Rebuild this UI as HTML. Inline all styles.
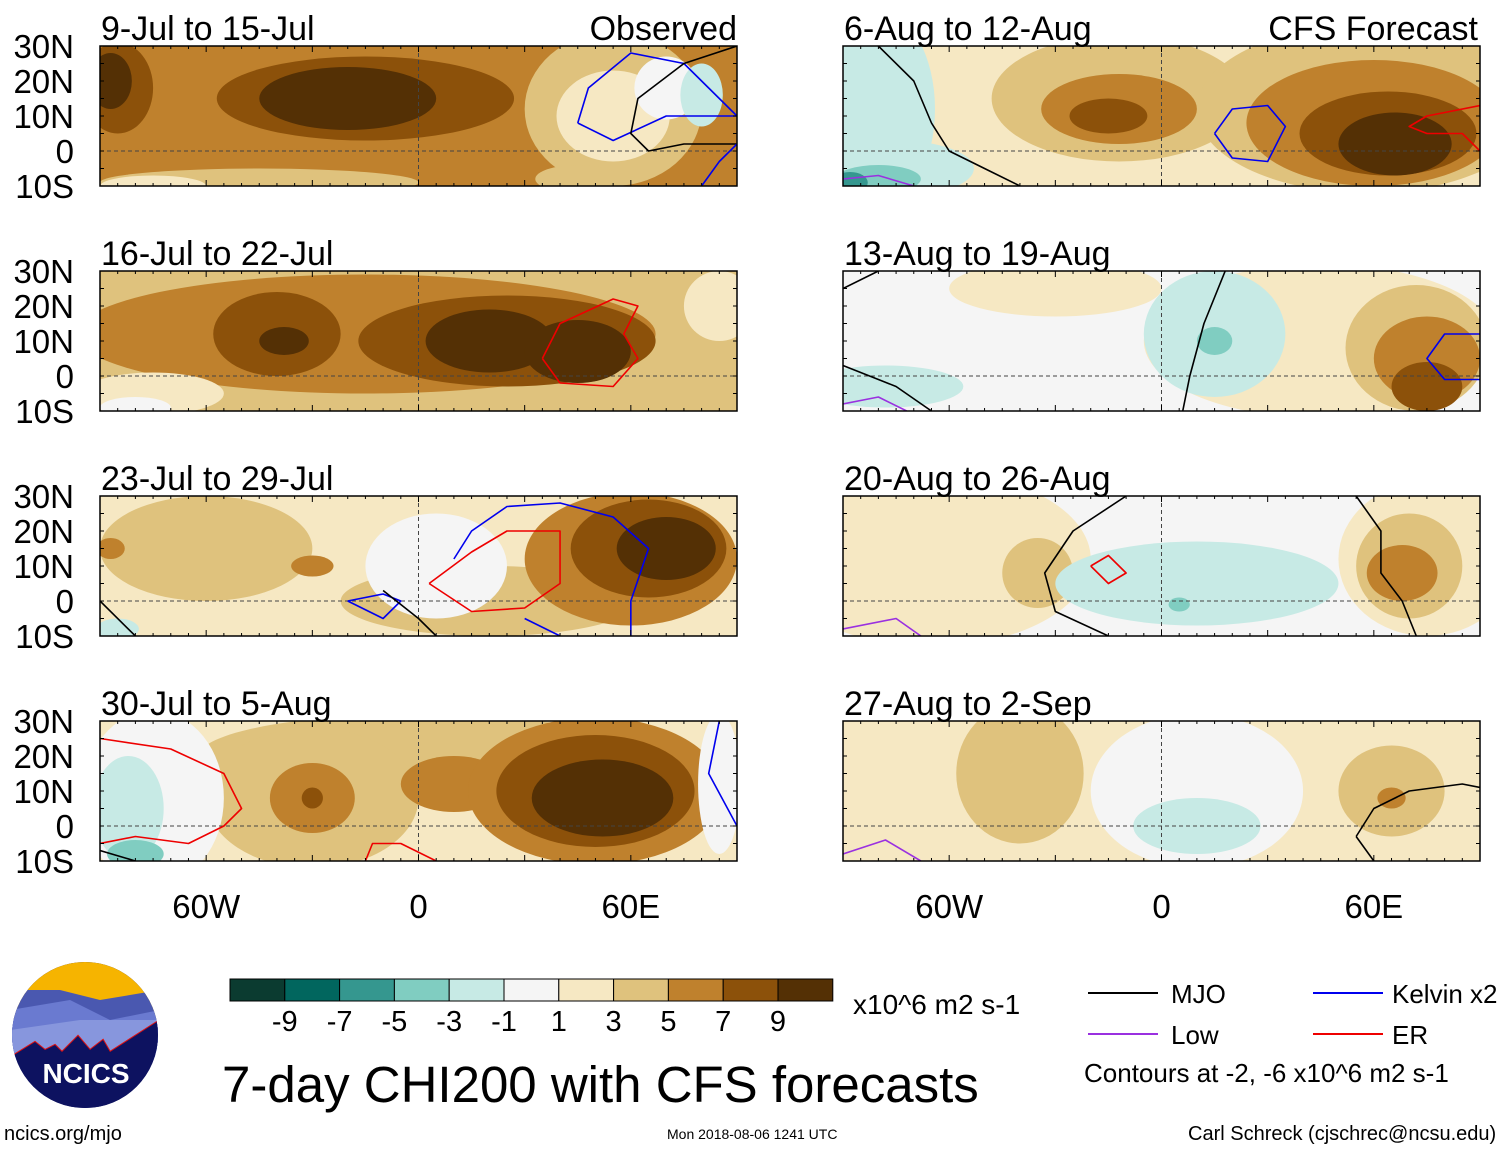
<!DOCTYPE html>
<html><head><meta charset="utf-8"><style>
body{margin:0;background:#fff;}
svg{display:block;font-family:"Liberation Sans",Arial,sans-serif;}
</style></head><body>
<svg id="chart" width="1510" height="1149" viewBox="0 0 1510 1149" xmlns="http://www.w3.org/2000/svg">
<defs></defs>
<g id="panels"></g>
<g id="bottom">
  <g>
    <clipPath id="logoclip"><circle cx="85" cy="1035" r="73"/></clipPath>
    <g clip-path="url(#logoclip)">
      <rect x="10" y="960" width="150" height="150" fill="#0d1260"/>
      <rect x="10" y="960" width="150" height="60" fill="#f6b400"/>
      <polygon points="10,990 60,990 100,1000 160,990 160,1060 10,1060" fill="#4a58b0"/>
      <polygon points="10,1010 70,1000 110,1020 160,1010 160,1060 10,1060" fill="#6a7ad0"/>
      <polygon points="10,1030 80,1020 160,1020 160,1060 10,1060" fill="#8796dd"/>
      <polyline points="14,1055 35,1042 45,1050 55,1045 62,1052 78,1036 90,1050 103,1040 110,1052 160,1020 160,1060 10,1060" fill="#5c6cc8" stroke="none"/>
      <polyline points="14,1055 35,1042 45,1050 55,1045 62,1052 78,1036 90,1050 103,1040 110,1052 160,1020" fill="none" stroke="#e01010" stroke-width="2"/>
      <polygon points="10,1060 14,1055 35,1042 45,1050 55,1045 62,1052 78,1036 90,1050 103,1040 110,1052 160,1020 160,1110 10,1110" fill="#0d1260"/>
    </g>
    <text x="86" y="1083" font-size="28" font-weight="bold" fill="#fff" text-anchor="middle">NCICS</text>
  </g>
  <text x="4" y="1140" font-size="20">ncics.org/mjo</text>
  <g id="cbar"></g>
  <text x="853" y="1014" font-size="28">x10^6 m2 s-1</text>
  <text x="222" y="1102" font-size="51">7-day CHI200 with CFS forecasts</text>
  <text x="667" y="1139" font-size="14">Mon 2018-08-06 1241 UTC</text>
  <text x="1188" y="1140" font-size="20">Carl Schreck (cjschrec@ncsu.edu)</text>
  <g>
    <line x1="1088" y1="993" x2="1158" y2="993" stroke="#000" stroke-width="2"/>
    <text x="1171" y="1003" font-size="26">MJO</text>
    <line x1="1313" y1="993" x2="1383" y2="993" stroke="#0000ee" stroke-width="2"/>
    <text x="1392" y="1003" font-size="26">Kelvin x2</text>
    <line x1="1088" y1="1034" x2="1158" y2="1034" stroke="#9a30e0" stroke-width="2"/>
    <text x="1171" y="1044" font-size="26">Low</text>
    <line x1="1313" y1="1034" x2="1383" y2="1034" stroke="#ee0000" stroke-width="2"/>
    <text x="1392" y="1044" font-size="26">ER</text>
    <text x="1084" y="1082" font-size="26">Contours at -2, -6 x10^6 m2 s-1</text>
  </g>
</g>
</svg>
<script>
const NS="http://www.w3.org/2000/svg";
const levelColors=["#0b3b30","#01665e","#35978f","#80cdc1","#c7eae5","#f5f5f5","#f6e8c3","#dfc27d","#bf812d","#8c510a","#543005"];
const cbarLabels=["-9","-7","-5","-3","-1","1","3","5","7","9"];
const panelTitles=["9-Jul to 15-Jul","16-Jul to 22-Jul","23-Jul to 29-Jul","30-Jul to 5-Aug","6-Aug to 12-Aug","13-Aug to 19-Aug","20-Aug to 26-Aug","27-Aug to 2-Sep"];
const panelBase=[8,7,6,6,6,5,5,6];
// blobs: [lon, lat, rxDeg, ryDeg, level]
const blobs1=[[-45,-9,45,4,7],[-75,-10,15,3,6],[55,12,25,22,7],[-15,15,42,12,9],[-85,18,10,13,9],[-20,15,25,9,10],[-87,20,6,8,10],[55,10,16,13,6],[70,18,9,9,5],[80,16,6,9,4],[45,-8,12,4,7]];
const blobs2=[[-15,12,82,17,8],[-40,12,18,12,9],[25,10,42,13,9],[-38,10,7,4,10],[20,10,18,9,10],[45,7,15,9,10],[-75,-5,20,6,6],[-80,-9,10,3,5],[85,20,10,10,6]];
const blobs3=[[-60,15,30,15,7],[20,0,42,10,7],[5,10,20,15,5],[60,12,30,19,8],[65,15,22,14,9],[70,15,14,9,10],[-30,10,6,3,8],[-87,15,4,3,8],[-85,-8,6,3,4]];
const blobs4=[[0,20,62,12,7],[-30,8,30,20,7],[-30,8,12,10,8],[10,12,15,8,8],[50,10,36,21,8],[50,10,28,16,9],[52,8,20,11,10],[-30,8,3,3,9],[-75,8,20,25,5],[-82,5,10,15,4],[-80,-8,8,4,3],[85,12,6,20,5]];
const blobs5=[[-80,12,16,28,4],[-75,-5,22,8,4],[-80,-8,12,4,3],[-88,-9,5,3,2],[-12,15,36,18,7],[58,12,48,24,7],[-12,12,22,10,8],[60,8,36,18,8],[-15,10,11,5,9],[64,5,25,12,9],[66,2,16,9,10]];
const blobs6=[[45,10,50,22,6],[-30,25,30,8,6],[15,12,20,18,4],[15,10,5,4,3],[-78,-3,22,6,4],[72,8,20,18,7],[75,5,15,12,8],[75,-3,10,7,9]];
const blobs7=[[-65,12,45,25,6],[-35,8,10,10,7],[10,5,40,12,4],[5,-1,3,2,3],[75,12,25,22,6],[70,10,15,15,7],[68,8,10,8,8]];
const blobs8=[[10,10,30,22,5],[10,0,18,8,4],[-40,15,18,20,7],[65,10,15,13,7],[65,8,4,3,8]];
const panelBlobs=[blobs1,blobs2,blobs3,blobs4,blobs5,blobs6,blobs7,blobs8];
// contours: [color, [[lon,lat],...]]
const contours1=[["#0000ee",[[45,8],[48,18],[60,28],[75,25],[85,15],[90,10],[70,10],[55,3],[45,8]]],["#000",[[90,30],[75,25],[62,15],[60,5],[65,0],[75,2],[90,2]]],["#0000ee",[[80,-10],[85,-3],[90,2]]]];
const contours2=[["#ee0000",[[35,5],[40,15],[55,22],[62,20],[58,12],[62,5],[55,-3],[40,-2],[35,5]]]];
const contours3=[["#0000ee",[[10,12],[15,20],[25,27],[40,28],[55,24],[65,15],[60,0],[60,-10]]],["#0000ee",[[-20,0],[-10,-5],[-5,0],[-10,2],[-20,0]]],["#ee0000",[[3,5],[15,14],[25,20],[40,20],[40,5],[30,-2],[15,-3],[3,5]]],["#000",[[-90,0],[-80,-10]]],["#000",[[-10,3],[0,-5],[5,-10]]],["#0000ee",[[30,-5],[40,-10]]]];
const contours4=[["#ee0000",[[-90,25],[-70,22],[-55,15],[-50,5],[-55,0],[-65,-5],[-80,-3],[-90,-5]]],["#ee0000",[[-15,-10],[-13,-5],[-5,-5],[5,-10]]],["#0000ee",[[85,30],[82,15],[90,0]]],["#000",[[-90,-7],[-80,-10]]]];
const contours5=[["#000",[[-80,30],[-70,20],[-65,8],[-60,0],[-50,-5],[-40,-10]]],["#0000ee",[[15,5],[20,12],[30,13],[35,7],[30,-3],[20,-2],[15,5]]],["#ee0000",[[90,13],[75,10],[70,7],[75,5],[85,5],[90,0]]],["#9a30e0",[[-90,-8],[-80,-7],[-70,-10]]]];
const contours6=[["#000",[[-90,25],[-80,30]]],["#000",[[-90,3],[-75,-3],[-65,-10]]],["#000",[[18,30],[12,15],[8,0],[6,-10]]],["#0000ee",[[90,12],[80,12],[75,5],[80,-1],[90,-1]]],["#9a30e0",[[-90,-8],[-80,-6],[-72,-10]]]];
const contours7=[["#000",[[-10,30],[-25,20],[-33,8],[-30,-3],[-15,-10]]],["#ee0000",[[-20,10],[-15,13],[-10,8],[-15,5],[-20,10]]],["#000",[[55,30],[62,20],[62,8],[68,0],[72,-10]]],["#9a30e0",[[-90,-8],[-75,-5],[-68,-10]]]];
const contours8=[["#000",[[55,-3],[60,5],[70,10],[85,12],[90,11]]],["#000",[[55,-3],[60,-10]]],["#9a30e0",[[-90,-8],[-78,-4],[-68,-10]]]];
const panelContours=[contours1,contours2,contours3,contours4,contours5,contours6,contours7,contours8];
const lonTicks=[-60,0,60];
const lonTickLabels=["60W","0","60E"];
const latTicks=[30,20,10,0,-10];
const latTickLabels=["30N","20N","10N","0","10S"];

const W=637,H=140, colX=[100,843], rowY=[46,271,496,721];
function el(tag,attrs,parent){const e=document.createElementNS(NS,tag);for(const k in attrs)e.setAttribute(k,attrs[k]);parent.appendChild(e);return e;}
const panels=document.getElementById('panels');
const defs=document.querySelector('defs');
for(let p=0;p<8;p++){
  const col=p<4?0:1,row=p%4;
  const x0=colX[col],y0=rowY[row];
  const xs=lon=>x0+(lon+90)/180*W;
  const ys=lat=>y0+(30-lat)/40*H;
  const g=el('g',{},panels);
  
  
  const cp=el('clipPath',{id:'cp'+p},defs);
  el('rect',{x:x0,y:y0,width:W,height:H},cp);
  const inner=el('g',{'clip-path':'url(#cp'+p+')'},g);
  el('rect',{x:x0,y:y0,width:W,height:H,fill:levelColors[panelBase[p]]},inner);
  panelBlobs[p].forEach(b=>{
    const e=el('ellipse',{cx:xs(b[0]),cy:ys(b[1]),rx:b[2]/180*W,ry:b[3]/40*H,fill:levelColors[b[4]]},inner);
    
    
  });
  el('line',{x1:x0,y1:ys(0),x2:x0+W,y2:ys(0),stroke:'#444','stroke-dasharray':'4,3','stroke-width':1},inner);
  el('line',{x1:xs(0),y1:y0,x2:xs(0),y2:y0+H,stroke:'#444','stroke-dasharray':'4,3','stroke-width':1},inner);
  panelContours[p].forEach(c=>{
    const pl=el('polyline',{points:c[1].map(q=>xs(q[0])+','+ys(q[1])).join(' '),fill:'none',stroke:c[0],'stroke-width':1.6,'stroke-linejoin':'round'},inner);
    
    
  });
  el('rect',{x:x0,y:y0,width:W,height:H,fill:'none',stroke:'#000','stroke-width':1.5},g);
  for(let lon=-90;lon<=90;lon+=5){
    const L=lon%30===0?6:3;
    el('line',{x1:xs(lon),y1:y0,x2:xs(lon),y2:y0+L,stroke:'#000'},g);
    el('line',{x1:xs(lon),y1:y0+H,x2:xs(lon),y2:y0+H-L,stroke:'#000'},g);
  }
  for(let lat=-10;lat<=30;lat+=5){
    el('line',{x1:x0,y1:ys(lat),x2:x0+4,y2:ys(lat),stroke:'#000'},g);
    el('line',{x1:x0+W,y1:ys(lat),x2:x0+W-4,y2:ys(lat),stroke:'#000'},g);
  }
  const t=el('text',{x:x0+1,y:y0-6,'font-size':34},g);t.textContent=panelTitles[p];
  
  
  if(col===0){
    latTicks.forEach((lat,i)=>{const tt=el('text',{x:74,y:ys(lat)+12,'font-size':33,'text-anchor':'end'},g);tt.textContent=latTickLabels[i];
      
      });
  }
  if(row===3){
    lonTicks.forEach((lon,i)=>{const tt=el('text',{x:xs(lon),y:y0+H+57,'font-size':33,'text-anchor':'middle'},g);tt.textContent=lonTickLabels[i];
      
      });
  }
}
const ot=el('text',{x:737,y:40,'font-size':34,'text-anchor':'end'},panels);ot.textContent='Observed';


const ft=el('text',{x:1478,y:40,'font-size':34,'text-anchor':'end'},panels);ft.textContent='CFS Forecast';


const cb=document.getElementById('cbar');
const cbx=230,cbw=54.8;
levelColors.forEach((c,i)=>{const r=el('rect',{x:cbx+i*cbw,y:979,width:cbw,height:22,fill:c,stroke:'#000','stroke-width':1},cb);
  
  });
cbarLabels.forEach((l,i)=>{const t=el('text',{x:cbx+(i+1)*cbw,y:1031,'font-size':29,'text-anchor':'middle'},cb);t.textContent=l;
  
  });
</script>
</body></html>
